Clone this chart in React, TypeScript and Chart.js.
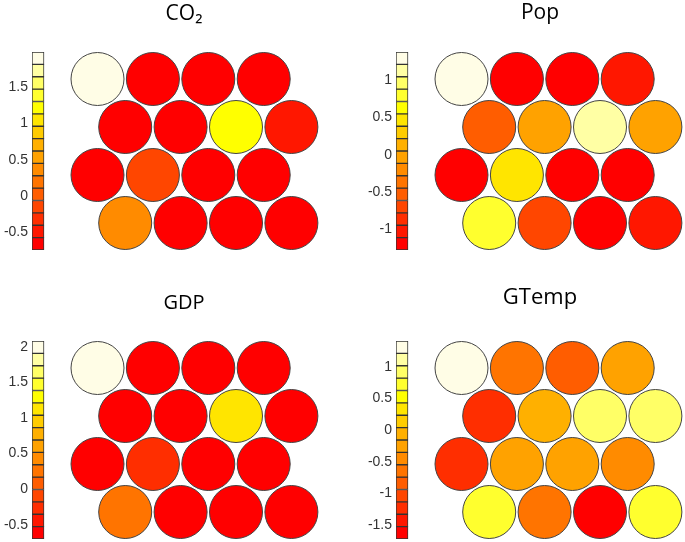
import React, { useEffect, useRef } from "react";
import { Chart, registerables } from "chart.js";

Chart.register(...registerables);

// ---- data ----
const GRID_COLS = 4;
const CO2_VALUES = [1.9, -0.68, -0.7, -0.66, -0.69, -0.64, 1.22, -0.49, -0.7, -0.15, -0.67, -0.65, 0.36, -0.71, -0.68, -0.66];
const POP_VALUES = [1.3, -1.2, -1.22, -1.03, -0.53, -0.03, 1.13, -0.04, -1.19, 0.47, -1.21, -1.18, 0.8, -0.7, -1.22, -1.04];
const GDP_VALUES = [2.0, -0.62, -0.64, -0.6, -0.63, -0.61, 1.12, -0.59, -0.65, -0.27, -0.62, -0.6, 0.26, -0.63, -0.61, -0.64];
const GTEMP_VALUES = [1.31, -0.64, -0.84, -0.25, -1.23, -0.1, 0.95, 0.88, -1.23, -0.25, -0.25, -0.45, 0.72, -0.64, -1.62, 0.73];

const CO2_RANGE = [-0.75, 1.99];
const POP_RANGE = [-1.28, 1.38];
const GDP_RANGE = [-0.7, 2.08];
const GTEMP_RANGE = [-1.72, 1.41];

const TICK_STEP = 0.5;

// colormap, bottom (low) to top (high)
const COLORMAP = [
  "#ff0000", "#ff1700", "#ff2e00", "#ff4600", "#ff5d00", "#ff7400",
  "#ff8b00", "#ffa200", "#ffb000", "#ffcc00", "#ffe500", "#ffff00",
  "#ffff2e", "#ffff66", "#ffffa4", "#fffde6",
];

// ---- layout (pixels) ----
const Y_AXIS_W = 32;
const COL_SPACING = 55.4;
const FIRST_COL_OFFSET = 65.5;
const ROW_SPACING = 48;
const POINT_R = 26.5;

type PanelDef = {
  title: string;
  values: number[];
  range: number[];
  left: number;
  top: number;
  w: number;
  h: number;
  areaTop: number;
  areaBottom: number;
  titleY: number;
  titleSize: number;
};

const PANELS: PanelDef[] = [
  { title: "CO\u2082", values: CO2_VALUES, range: CO2_RANGE, left: 0, top: 0, w: 368, h: 262, areaTop: 52, areaBottom: 250, titleY: 14, titleSize: 21 },
  { title: "Pop", values: POP_VALUES, range: POP_RANGE, left: 364, top: 0, w: 352, h: 262, areaTop: 52, areaBottom: 250, titleY: 13, titleSize: 21 },
  { title: "GDP", values: GDP_VALUES, range: GDP_RANGE, left: 0, top: 270, w: 368, h: 281, areaTop: 341, areaBottom: 539, titleY: 303, titleSize: 20 },
  { title: "GTemp", values: GTEMP_VALUES, range: GTEMP_RANGE, left: 364, top: 270, w: 352, h: 281, areaTop: 341, areaBottom: 539, titleY: 298, titleSize: 22 },
];

function Panel({ p }: { p: PanelDef }) {
  const ref = useRef<HTMLCanvasElement | null>(null);
  useEffect(() => {
    if (!ref.current) return;
    const lo = p.range[0];
    const hi = p.range[1];
    const n = COLORMAP.length;
    const step = (hi - lo) / n;
    const colorFor = (v: number) =>
      COLORMAP[Math.max(0, Math.min(n - 1, Math.floor((v - lo) / step)))];

    const areaLeft = Y_AXIS_W;
    const areaRight = p.w;
    const c0 = areaLeft + FIRST_COL_OFFSET;
    const xmin = (areaLeft - c0) / COL_SPACING;
    const xmax = (areaRight - c0) / COL_SPACING;
    const barX = (areaLeft + 6 - c0) / COL_SPACING;

    const lineH = p.titleSize * 1.2;
    const tTop = p.titleY - p.top - lineH / 2;
    const tBottom = p.areaTop - p.top - tTop - lineH;
    const padBottom = p.top + p.h - p.areaBottom;

    const rows = Math.ceil(p.values.length / GRID_COLS);
    const rowMargin = (p.areaBottom - p.areaTop - ROW_SPACING * (rows - 1)) / 2 / ROW_SPACING;

    const chart = new Chart(ref.current, {
      type: "scatter",
      data: {
        datasets: [
          {
            type: "bar",
            xAxisID: "x",
            yAxisID: "y",
            data: COLORMAP.map((_, i) => ({ x: barX, y: [lo + i * step, lo + (i + 1) * step] })),
            backgroundColor: COLORMAP,
            borderColor: "#333333",
            borderWidth: 1,
            borderSkipped: false,
            barThickness: 12,
          } as any,
          {
            type: "scatter",
            xAxisID: "x",
            yAxisID: "yh",
            data: p.values.map((_, i) => {
              const r = Math.floor(i / GRID_COLS);
              const c = i % GRID_COLS;
              return { x: c + (r % 2 ? 0.5 : 0), y: r };
            }),
            pointRadius: POINT_R,
            pointHoverRadius: POINT_R,
            pointBackgroundColor: p.values.map(colorFor),
            pointBorderColor: "#444444",
            pointBorderWidth: 1,
          } as any,
        ],
      },
      options: {
        animation: false,
        responsive: false,
        maintainAspectRatio: false,
        events: [],
        layout: { autoPadding: false, padding: { top: 0, left: 0, right: 0, bottom: padBottom } },
        plugins: {
          legend: { display: false },
          tooltip: { enabled: false },
          title: {
            display: true,
            text: p.title,
            color: "#000000",
            font: { family: "'Open Sans', sans-serif", size: p.titleSize, weight: "normal", lineHeight: 1.2 },
            padding: { top: tTop, bottom: tBottom },
          },
        },
        scales: {
          x: { type: "linear", display: false, min: xmin, max: xmax, offset: false },
          y: {
            type: "linear",
            position: "left",
            min: lo,
            max: hi,
            grid: { display: false, drawTicks: false },
            border: { display: false },
            ticks: {
              stepSize: TICK_STEP,
              includeBounds: false,
              padding: 4,
              color: "#333333",
              font: { family: "'Liberation Sans', Arial, sans-serif", size: 14 },
              callback: (v: any) => String(v),
            },
            afterFit: (s: any) => {
              s.width = Y_AXIS_W;
              s.paddingTop = 0;
              s.paddingBottom = 0;
            },
          },
          yh: {
            type: "linear",
            display: false,
            reverse: true,
            min: -rowMargin,
            max: rows - 1 + rowMargin,
          },
        },
      } as any,
    });
    return () => chart.destroy();
  }, [p]);

  return (
    <div style={{ position: "absolute", left: p.left, top: p.top, width: p.w, height: p.h }}>
      <canvas ref={ref} width={p.w} height={p.h} style={{ width: p.w, height: p.h, display: "block" }} />
    </div>
  );
}

export default function App() {
  return (
    <div
      style={{
        position: "fixed",
        left: 0,
        top: 0,
        width: 685,
        height: 542,
        overflow: "hidden",
        background: "#ffffff",
      }}
    >
      {PANELS.map((p) => (
        <Panel key={p.title} p={p} />
      ))}
    </div>
  );
}
